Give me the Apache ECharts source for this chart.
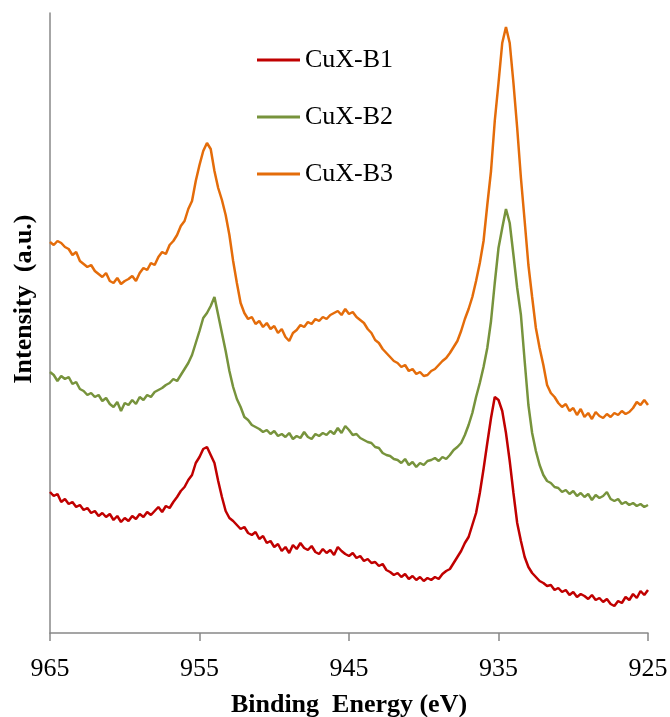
<!DOCTYPE html>
<html>
<head>
<meta charset="utf-8">
<script src="https://cdn.jsdelivr.net/npm/echarts@6/dist/echarts.min.js"></script>
<style>
  html, body { margin: 0; padding: 0; background: #fff; }
  #main { width: 670px; height: 717px; }
</style>
</head>
<body>
<div id="main"></div>
<script>
// binding energy grid: 965 eV down to 925 eV, 0.25 eV per point
var energyStart = 965, energyStep = 0.25

var names = ['CuX-B1', 'CuX-B2', 'CuX-B3']
var colors = ['#C00000', '#77933C', '#E46C0A']
var xTicks = [965, 955, 945, 935, 925]

// intensity (a.u.)
var cuxB1 = [
  141,137,139,131,134,129,131,126,128,123,125,120,122,117,120,116,119,113,117,111,
  115,112,117,114,119,116,121,118,122,126,121,127,125,131,136,142,146,153,158,170,
  176,184,186,178,170,152,136,122,115,112,108,104,106,100,98,101,94,97,90,92,
  86,89,82,86,80,88,84,90,85,83,87,81,79,84,80,83,78,86,82,79,
  77,80,75,77,72,74,70,71,67,69,63,61,58,60,56,59,54,57,53,56,
  52,55,53,56,54,59,62,64,70,76,82,90,96,108,120,140,164,190,215,236,
  233,222,200,172,140,110,92,76,66,60,56,52,50,47,48,43,45,41,43,38,
  41,36,39,37,34,38,33,35,31,34,29,27,32,30,36,33,39,35,42,38,43
]
var cuxB2 = [
  261,258,252,257,254,256,249,251,244,242,238,240,236,238,232,235,229,226,231,222,
  230,228,233,229,236,233,238,236,241,243,245,248,250,254,252,258,264,270,278,290,
  302,315,320,327,336,318,300,282,262,246,234,226,216,213,208,206,204,201,203,199,
  202,197,199,196,200,194,197,195,201,196,194,199,197,200,198,202,199,205,200,207,
  203,198,199,195,193,191,190,186,185,180,178,177,174,173,170,174,168,171,166,170,
  168,172,173,175,172,176,174,178,183,186,190,198,208,220,236,250,266,285,312,350,
  385,405,424,410,378,345,318,272,228,200,182,168,158,152,150,146,145,141,143,139,
  142,137,140,136,139,133,138,135,137,141,134,132,134,129,131,128,130,127,129,126,128
]
var cuxB3 = [
  391,388,392,390,386,384,378,381,372,369,366,368,362,359,356,360,352,350,355,349,
  352,354,357,352,360,365,363,370,368,376,381,379,388,392,398,407,412,424,432,452,
  468,482,490,484,462,445,433,418,398,372,350,330,320,314,316,309,312,306,310,304,
  307,300,304,296,292,300,303,308,306,311,309,314,312,316,314,318,320,322,318,324,
  319,321,316,313,310,304,300,293,290,284,280,276,272,270,266,268,262,264,259,261,
  257,258,262,264,268,272,275,280,286,292,302,314,324,336,352,370,392,428,462,512,
  550,590,606,590,550,505,455,412,368,336,305,285,268,248,240,236,230,226,229,222,
  225,218,224,216,220,214,221,217,215,219,216,220,218,222,219,221,225,231,228,233,228
]

function toPairs(vals) {
  var out = []
  for (var i = 0; i < vals.length; i++) out.push([energyStart - i * energyStep, vals[i]])
  return out
}

var serif = '"Liberation Serif", "Times New Roman", serif'
var chart = echarts.init(document.getElementById('main'))

chart.setOption({
  animation: false,
  grid: { left: 50, right: 22, top: 13, bottom: 84, outerBoundsMode: 'none' },
  legend: {
    orient: 'vertical',
    left: 252,
    top: 42,
    icon: 'rect',
    itemWidth: 43,
    itemHeight: 3,
    itemGap: 31,
    data: names,
    textStyle: { fontFamily: serif, fontSize: 26, color: '#000' }
  },
  xAxis: {
    type: 'value',
    inverse: true,
    min: 925,
    max: 965,
    interval: 10,
    name: 'Binding  Energy (eV)',
    nameLocation: 'middle',
    nameGap: 59,
    nameTextStyle: { fontFamily: serif, fontSize: 26, fontWeight: 'bold', color: '#000' },
    axisLine: { lineStyle: { color: '#888', width: 1.5 } },
    axisTick: { show: true, inside: false, length: 8, lineStyle: { color: '#888', width: 1.5 } },
    axisLabel: {
      margin: 23,
      fontFamily: serif, fontSize: 26, color: '#000',
      formatter: function (v) { return xTicks.indexOf(v) >= 0 ? String(v) : '' }
    },
    splitLine: { show: false }
  },
  yAxis: {
    type: 'value',
    min: 0,
    max: 620,
    axisLine: { show: true, lineStyle: { color: '#888', width: 1.5 } },
    axisTick: { show: false },
    axisLabel: { show: false },
    splitLine: { show: false }
  },
  graphic: [{
    type: 'text',
    x: 24,
    y: 299,
    rotation: Math.PI / 2,
    style: {
      text: 'Intensity  (a.u.)',
      font: 'bold 26px ' + serif,
      fill: '#000',
      textAlign: 'center',
      textVerticalAlign: 'middle'
    }
  }],
  series: [
    { name: names[0], type: 'line', data: toPairs(cuxB1), symbol: 'none', lineStyle: { width: 2.5, color: colors[0] }, itemStyle: { color: colors[0] } },
    { name: names[1], type: 'line', data: toPairs(cuxB2), symbol: 'none', lineStyle: { width: 2.5, color: colors[1] }, itemStyle: { color: colors[1] } },
    { name: names[2], type: 'line', data: toPairs(cuxB3), symbol: 'none', lineStyle: { width: 2.5, color: colors[2] }, itemStyle: { color: colors[2] } }
  ]
})
</script>
</body>
</html>
